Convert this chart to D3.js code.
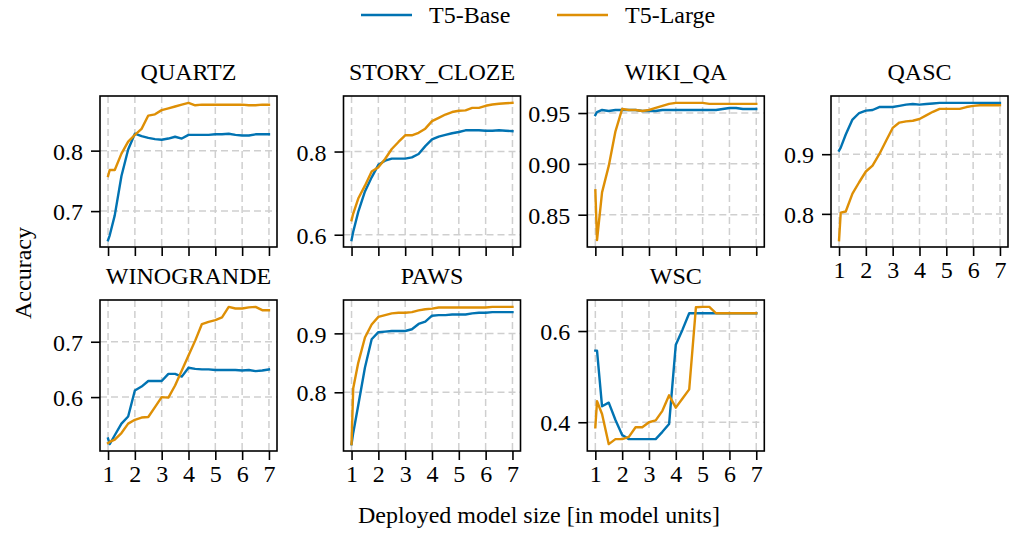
<!DOCTYPE html>
<html>
<head>
<meta charset="utf-8">
<script src="https://cdn.jsdelivr.net/npm/d3@7"></script>
<style>
  html, body { margin: 0; padding: 0; background: #fff; }
  svg text { font-family: "Liberation Serif", "Times New Roman", Tinos, "DejaVu Serif", serif !important; }
</style>
</head>
<body>
<svg id="chart" width="1011" height="535"></svg>
<script>
// Deployed model size (in model units) at which each accuracy was measured
const modelUnits = [1, 1.0625, 1.25, 1.5, 1.75, 2, 2.25, 2.5, 2.75, 3, 3.25, 3.5, 3.75,
                    4, 4.25, 4.5, 4.75, 5, 5.25, 5.5, 5.75, 6, 6.25, 6.5, 6.75, 7];
const xTickValues = [1, 2, 3, 4, 5, 6, 7];

const seriesNames = ["T5-Base", "T5-Large"];
const taskNames = ["QUARTZ", "STORY_CLOZE", "WIKI_QA", "QASC", "WINOGRANDE", "PAWS", "WSC"];

// Accuracy per task, one array per model
const quartzBase = [0.652, 0.660, 0.693, 0.758, 0.802, 0.828, 0.824, 0.821, 0.819, 0.818, 0.820, 0.823, 0.820,
                    0.826, 0.826, 0.826, 0.826, 0.827, 0.827, 0.828, 0.826, 0.825, 0.825, 0.827, 0.827, 0.827];
const quartzLarge = [0.758, 0.768, 0.768, 0.795, 0.815, 0.826, 0.836, 0.858, 0.860, 0.867, 0.870, 0.873, 0.876,
                     0.879, 0.875, 0.876, 0.876, 0.876, 0.876, 0.876, 0.876, 0.876, 0.875, 0.875, 0.876, 0.876];

const storyBase = [0.587, 0.607, 0.655, 0.704, 0.738, 0.768, 0.778, 0.783, 0.783, 0.783, 0.786, 0.794, 0.813,
                   0.829, 0.836, 0.840, 0.844, 0.847, 0.851, 0.851, 0.851, 0.850, 0.850, 0.851, 0.850, 0.849];
const storyLarge = [0.635, 0.651, 0.687, 0.718, 0.752, 0.762, 0.782, 0.806, 0.823, 0.839, 0.839, 0.845, 0.855,
                    0.873, 0.881, 0.889, 0.895, 0.898, 0.899, 0.905, 0.905, 0.910, 0.913, 0.915, 0.916, 0.917];

const wikiBase = [0.948, 0.951, 0.953, 0.952, 0.953, 0.953, 0.953, 0.953, 0.952, 0.952, 0.952, 0.953, 0.953,
                  0.953, 0.953, 0.953, 0.953, 0.953, 0.953, 0.953, 0.954, 0.955, 0.955, 0.954, 0.954, 0.954];
const wikiLarge = [0.874, 0.825, 0.872, 0.898, 0.932, 0.954, 0.953, 0.953, 0.952, 0.953, 0.955, 0.957, 0.959,
                   0.960, 0.960, 0.960, 0.960, 0.960, 0.959, 0.959, 0.959, 0.959, 0.959, 0.959, 0.959, 0.959];

const qascBase = [0.906, 0.911, 0.933, 0.958, 0.969, 0.973, 0.974, 0.979, 0.979, 0.979, 0.981, 0.983, 0.984,
                  0.983, 0.984, 0.985, 0.986, 0.986, 0.986, 0.986, 0.986, 0.986, 0.986, 0.986, 0.986, 0.986];
const qascLarge = [0.756, 0.802, 0.804, 0.834, 0.853, 0.871, 0.881, 0.900, 0.922, 0.944, 0.953, 0.955, 0.956,
                   0.959, 0.965, 0.971, 0.976, 0.976, 0.976, 0.976, 0.979, 0.981, 0.982, 0.982, 0.982, 0.982];

const winograndeBase = [0.525, 0.515, 0.531, 0.552, 0.565, 0.612, 0.619, 0.629, 0.629, 0.629, 0.642, 0.642, 0.637,
                        0.653, 0.651, 0.650, 0.650, 0.649, 0.649, 0.649, 0.649, 0.648, 0.649, 0.647, 0.648, 0.650];
const winograndeLarge = [0.517, 0.519, 0.523, 0.535, 0.552, 0.559, 0.563, 0.564, 0.582, 0.600, 0.599, 0.621, 0.648,
                         0.675, 0.702, 0.732, 0.736, 0.739, 0.744, 0.763, 0.760, 0.760, 0.762, 0.763, 0.757, 0.757];

const pawsBase = [0.712, 0.731, 0.778, 0.842, 0.890, 0.902, 0.903, 0.904, 0.904, 0.904, 0.907, 0.916, 0.920,
                  0.930, 0.931, 0.931, 0.932, 0.932, 0.932, 0.934, 0.935, 0.935, 0.936, 0.936, 0.936, 0.936];
const pawsLarge = [0.712, 0.807, 0.850, 0.893, 0.915, 0.928, 0.931, 0.934, 0.935, 0.935, 0.936, 0.939, 0.941,
                   0.942, 0.944, 0.944, 0.944, 0.944, 0.944, 0.944, 0.944, 0.944, 0.945, 0.945, 0.945, 0.945];

const wscBase = [0.557, 0.557, 0.435, 0.443, 0.405, 0.372, 0.363, 0.363, 0.363, 0.363, 0.363, 0.379, 0.396,
                 0.570, 0.603, 0.639, 0.639, 0.639, 0.639, 0.639, 0.639, 0.639, 0.639, 0.639, 0.639, 0.639];
const wscLarge = [0.389, 0.446, 0.418, 0.352, 0.363, 0.363, 0.368, 0.389, 0.389, 0.400, 0.404, 0.425, 0.459,
                  0.432, 0.452, 0.472, 0.652, 0.653, 0.653, 0.639, 0.639, 0.639, 0.639, 0.639, 0.639, 0.639];

// Y tick values shown for each task
const quartzTicks = [0.7, 0.8];
const storyTicks = [0.6, 0.8];
const wikiTicks = [0.85, 0.90, 0.95];
const qascTicks = [0.8, 0.9];
const winograndeTicks = [0.6, 0.7];
const pawsTicks = [0.8, 0.9];
const wscTicks = [0.4, 0.6];

const panels = [
  { name: taskNames[0], base: quartzBase, large: quartzLarge, ticks: quartzTicks, fmt: ".1f" },
  { name: taskNames[1], base: storyBase, large: storyLarge, ticks: storyTicks, fmt: ".1f" },
  { name: taskNames[2], base: wikiBase, large: wikiLarge, ticks: wikiTicks, fmt: ".2f" },
  { name: taskNames[3], base: qascBase, large: qascLarge, ticks: qascTicks, fmt: ".1f" },
  { name: taskNames[4], base: winograndeBase, large: winograndeLarge, ticks: winograndeTicks, fmt: ".1f" },
  { name: taskNames[5], base: pawsBase, large: pawsLarge, ticks: pawsTicks, fmt: ".1f" },
  { name: taskNames[6], base: wscBase, large: wscLarge, ticks: wscTicks, fmt: ".1f" }
];

const colors = ["#0173b2", "#de8f05"];
const fontSize = 24;

// Grid of small multiples
const panelW = 177, panelH = 151;
const colLeft = [100, 343.5, 587.3, 831];
const rowTop = [96, 300];
const tickLen = 9;

const svg = d3.select("#chart");
svg.append("rect").attr("width", 1011).attr("height", 535).attr("fill", "#fff");

panels.forEach((p, i) => {
  const col = i % 4, row = Math.floor(i / 4);
  const g = svg.append("g").attr("transform", `translate(${colLeft[col]},${rowTop[row]})`);

  const x = d3.scaleLinear().domain([0.7, 7.3]).range([0, panelW]);
  const all = p.base.concat(p.large);
  const lo = d3.min(all), hi = d3.max(all), pad = (hi - lo) * 0.05;
  const y = d3.scaleLinear().domain([lo - pad, hi + pad]).range([panelH, 0]);

  // dashed grid
  const grid = g.append("g").attr("stroke", "#cfcfcf").attr("stroke-width", 1.5)
    .attr("stroke-dasharray", "7,4");
  grid.selectAll("line.vx").data(xTickValues).join("line")
    .attr("x1", d => x(d)).attr("x2", d => x(d)).attr("y1", 0).attr("y2", panelH);
  grid.selectAll("line.hy").data(p.ticks).join("line")
    .attr("x1", 0).attr("x2", panelW).attr("y1", d => y(d)).attr("y2", d => y(d));

  // the two model curves
  const line = d3.line().x((d, k) => x(modelUnits[k])).y(d => y(d));
  [p.base, p.large].forEach((vals, s) => {
    g.append("path").datum(vals).attr("d", line)
      .attr("fill", "none").attr("stroke", colors[s]).attr("stroke-width", 2.4)
      .attr("stroke-linejoin", "round").attr("stroke-linecap", "square");
  });

  // axes: x labels only on the bottom panel of each column
  const showXLabels = row === 1 || col === 3;
  const xAxis = d3.axisBottom(x).tickValues(xTickValues).tickSize(tickLen).tickPadding(5)
    .tickFormat(showXLabels ? d3.format("d") : () => "");
  const yAxis = d3.axisLeft(y).tickValues(p.ticks).tickSize(tickLen).tickPadding(8)
    .tickFormat(d3.format(p.fmt));

  const xg = g.append("g").attr("transform", `translate(0,${panelH})`).call(xAxis);
  const yg = g.append("g").call(yAxis);
  [xg, yg].forEach(a => {
    a.attr("font-family", null);
    a.select(".domain").remove();
    a.selectAll(".tick line").attr("stroke", "#000").attr("stroke-width", 1.6);
    a.selectAll(".tick text").attr("fill", "#000").attr("font-size", fontSize);
  });
  yg.selectAll(".tick text").attr("dy", "0.36em");

  // frame
  g.append("rect").attr("width", panelW).attr("height", panelH)
    .attr("fill", "none").attr("stroke", "#000").attr("stroke-width", 1.6);

  // title
  g.append("text").attr("x", panelW / 2).attr("y", -16).attr("text-anchor", "middle")
    .attr("font-size", fontSize).text(p.name);
});

// shared axis labels
svg.append("text").attr("x", 539).attr("y", 523).attr("text-anchor", "middle")
  .attr("font-size", fontSize).text("Deployed model size [in model units]");
svg.append("text").attr("transform", "translate(31,273) rotate(-90)")
  .attr("text-anchor", "middle").attr("font-size", fontSize).text("Accuracy");

// legend
const legendX = [361, 557];
seriesNames.forEach((name, s) => {
  const lg = svg.append("g").attr("transform", `translate(${legendX[s]},0)`);
  lg.append("line").attr("x1", 0).attr("x2", 51).attr("y1", 15).attr("y2", 15)
    .attr("stroke", colors[s]).attr("stroke-width", 2.4);
  lg.append("text").attr("x", 68).attr("y", 23).attr("font-size", fontSize).text(name);
});
</script>
</body>
</html>
